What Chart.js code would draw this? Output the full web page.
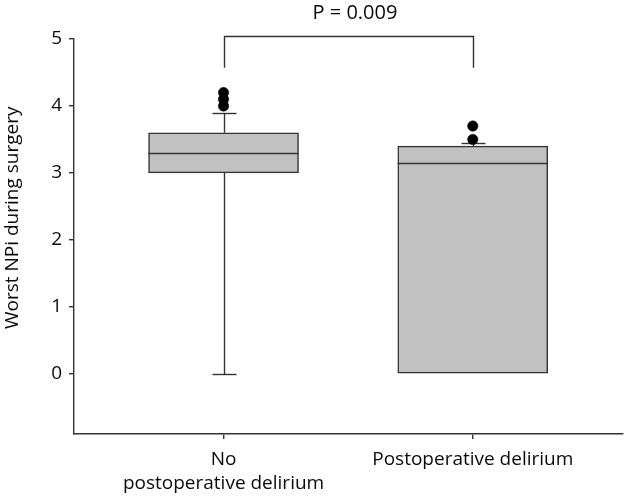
<!DOCTYPE html>
<html>
<head>
<meta charset="utf-8">
<script src="https://cdn.jsdelivr.net/npm/chart.js@4.4.0/dist/chart.umd.min.js"></script>
<style>
  html, body { margin: 0; padding: 0; background: #fff; }
  #wrap { width: 628px; height: 499px; }
</style>
</head>
<body>
<div id="wrap"><canvas id="myChart"></canvas></div>
<script>
const groups = [["No", "postoperative delirium"], "Postoperative delirium"];
const groupPos = [1, 2];
const q1 = [3.0, 0];
const median = [3.3, 3.15];
const q3 = [3.6, 3.4];
const whiskerLow = [0, 0];
const whiskerHigh = [3.9, 3.45];
const outliers = [[4.0, 4.1, 4.2], [3.5, 3.7]];
const yTicks = [0, 1, 2, 3, 4, 5];
const yTitle = "Worst NPi during surgery";
const pLabel = "P = 0.009";

const family = "'Open Sans', sans-serif";
const font = { family: family, size: 19, lineHeight: 1.3 };
const ink = "#0a0a0a";
const lineCol = "#333";
const lw = 1.4;

// whiskers + medians go right after the boxes, before the outlier dots
const boxExtras = {
  id: "boxExtras",
  afterDatasetDraw(chart, args) {
    if (args.index !== 0) return;
    const x = chart.scales.x, y = chart.scales.y, ctx = chart.ctx;
    const bars = chart.getDatasetMeta(0).data;
    ctx.save();
    ctx.strokeStyle = lineCol;
    ctx.lineWidth = lw;
    const line = (x1, y1, x2, y2) => {
      ctx.beginPath();
      ctx.moveTo(x1, y1);
      ctx.lineTo(x2, y2);
      ctx.stroke();
    };
    groupPos.forEach((g, i) => {
      const px = Math.round(x.getPixelForValue(g)) + 0.5;
      const yHi = Math.round(y.getPixelForValue(whiskerHigh[i])) + 0.5;
      const yLo = Math.round(y.getPixelForValue(whiskerLow[i])) + 0.5;
      line(px, y.getPixelForValue(q3[i]), px, yHi);
      line(px - 12, yHi, px + 12, yHi);
      if (whiskerLow[i] < q1[i]) {
        line(px, y.getPixelForValue(q1[i]), px, yLo);
        line(px - 12, yLo, px + 12, yLo);
      }
      const b = bars[i];
      const ym = Math.round(y.getPixelForValue(median[i])) + 0.5;
      line(b.x - b.width / 2, ym, b.x + b.width / 2, ym);
    });
    ctx.restore();
  },
  afterDraw(chart) {
    const x = chart.scales.x, y = chart.scales.y, ctx = chart.ctx;
    const xa = Math.round(x.getPixelForValue(groupPos[0])) + 0.5;
    const xb = Math.round(x.getPixelForValue(groupPos[1])) + 0.5;
    const top = Math.round(y.getPixelForValue(5.05)) + 0.5;
    const leg = y.getPixelForValue(4.57);
    ctx.save();
    ctx.strokeStyle = lineCol;
    ctx.lineWidth = lw;
    ctx.beginPath();
    ctx.moveTo(xa, leg);
    ctx.lineTo(xa, top);
    ctx.lineTo(xb, top);
    ctx.lineTo(xb, leg);
    ctx.stroke();
    ctx.fillStyle = ink;
    ctx.font = "20px " + family;
    ctx.textAlign = "center";
    ctx.textBaseline = "middle";
    ctx.fillText(pLabel, (xa + xb) / 2 + 6, y.getPixelForValue(5.39));
    // y title, sits a little above the axis middle like the original
    ctx.translate(13, y.getPixelForValue(2.33));
    ctx.rotate(-Math.PI / 2);
    ctx.font = "19px " + family;
    ctx.fillText(yTitle, 0, 0);
    ctx.restore();
  }
};

new Chart("myChart", {
  type: "bar",
  data: {
    datasets: [{
      data: groupPos.map((g, i) => ({ x: g, y: [q1[i], q3[i]] })),
      backgroundColor: "#c1c1c1",
      borderColor: lineCol,
      borderWidth: 1.5,
      borderSkipped: false,
      barThickness: 150,
      order: 1
    }, {
      type: "scatter",
      data: outliers.flatMap((vals, i) => vals.map(v => ({ x: groupPos[i], y: v }))),
      backgroundColor: "#000",
      borderColor: "#000",
      pointRadius: 5.2,
      borderWidth: 0.5,
      order: 0
    }]
  },
  options: {
    responsive: true,
    maintainAspectRatio: false,
    animation: false,
    layout: { padding: { top: 39, right: 4, left: 0, bottom: 0 } },
    plugins: {
      legend: { display: false },
      tooltip: { enabled: false }
    },
    scales: {
      x: {
        type: "linear",
        offset: false,
        min: 0.4,
        max: 2.6,
        afterBuildTicks: s => { s.ticks = groupPos.map(v => ({ value: v })); },
        afterFit: s => { s.height = 65; },
        grid: { offset: false, drawOnChartArea: false, tickLength: 5, color: lineCol, lineWidth: lw },
        border: { display: true, color: lineCol, width: lw },
        ticks: {
          color: ink,
          font: font,
          padding: 8,
          maxRotation: 0,
          callback: v => groups[groupPos.indexOf(v)]
        }
      },
      y: {
        min: -0.9,
        max: 5,
        afterBuildTicks: s => { s.ticks = yTicks.map(v => ({ value: v })); },
        afterFit: s => { s.width = 74; },
        grid: { drawOnChartArea: false, tickLength: 5, color: lineCol, lineWidth: lw },
        border: { display: true, color: lineCol, width: lw },
        ticks: { color: ink, font: font, padding: 7 }
      }
    }
  },
  plugins: [boxExtras]
});
</script>
</body>
</html>
